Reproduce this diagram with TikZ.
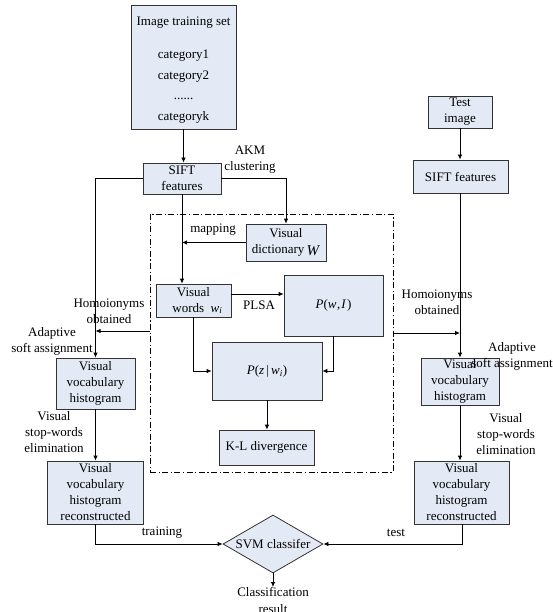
\documentclass[tikz,border=0pt]{standalone}
\usepackage{fontspec}
\setmainfont{Liberation Serif}
\usetikzlibrary{shapes.geometric,arrows.meta,calc}
\definecolor{boxfill}{HTML}{E4EAF5}
\definecolor{boxline}{HTML}{333333}
\newcommand{\itx}[1]{\textit{#1}}
\tikzset{
  every node/.style={font=\fontsize{13}{16}\selectfont},
  pbox/.style={draw=boxline, line width=0.8pt, fill=boxfill, inner sep=0pt, align=center},
  lbl/.style={inner sep=0pt, align=center},
  conn/.style={draw=black, line width=0.8pt},
  arr/.style={conn, -{Latex[length=5pt,width=4.5pt]}},
}
\begin{document}
\begin{tikzpicture}[x=1pt,y=-1pt]
\useasboundingbox (0,0) rectangle (552,612);
% boxes
\node[pbox, minimum width=105, minimum height=124] (train) at (183.5,67) {};
\node[lbl] (trainT) at (183.5,23) {Image training set};
\node[lbl, font=\fontsize{13}{20.5}\selectfont] (cats) at (183.5,86.5) {category1\\category2\\......\\categoryk};
\node[pbox, minimum width=78, minimum height=31] (siftL) at (182,178.5) {SIFT\\features};
\node[pbox, minimum width=80, minimum height=37] (dict) at (286,242.5) {Visual\\dictionary\,\raisebox{-2pt}{\fontsize{15}{16}\selectfont\itx{W}}};
\node[pbox, minimum width=75, minimum height=33] (vw) at (193.5,300.5) {Visual\\\hspace*{0.6em}words\ \ \itx{w}\textsubscript{\itx{i}}};
\node[pbox, minimum width=99, minimum height=61] (pwi) at (333.5,305.5) {\itx{P}(\itx{w}\kern0.5pt,\kern1pt\itx{I}\kern1pt)};
\node[pbox, minimum width=110, minimum height=58] (pz) at (267,371) {\itx{P}(\itx{z}\,|\,\itx{w}\textsubscript{\itx{i}})};
\node[pbox, minimum width=95, minimum height=35] (kl) at (266.5,447.5) {K-L divergence};
\node[pbox, minimum width=79, minimum height=51] (vvhL) at (95.5,383.5) {Visual\\vocabulary\\histogram};
\node[pbox, minimum width=96, minimum height=63] (recL) at (95.5,492.5) {Visual\\vocabulary\\histogram\\reconstructed};
\node[pbox, minimum width=64, minimum height=32] (test) at (460,112) {Test\\image};
\node[pbox, minimum width=95, minimum height=33] (siftR) at (460.5,176.5) {SIFT features};
\node[pbox, minimum width=78, minimum height=47] (vvhR) at (460,381.5) {Visual\\vocabulary\\histogram};
\node[pbox, minimum width=95, minimum height=63] (recR) at (461.5,492.5) {Visual\\vocabulary\\histogram\\reconstructed};
\node[pbox, diamond, aspect=1.7, minimum width=100, minimum height=58] (svm) at (273,544) {};
\node[lbl] (svmT) at (273,544) {SVM classifer};
\node[draw=black, line width=0.8pt, dash pattern=on 6pt off 2.5pt on 1.2pt off 2.5pt, minimum width=243, minimum height=258, inner sep=0pt] (dbox) at (271.5,343) {};
\node[lbl, anchor=north, font=\fontsize{13}{17}\selectfont] (result) at (273,587) {Classification\\result};
% labels
\node[lbl] (akm) at (250,159.5) {AKM\\clustering};
\node[lbl] (mapl) at (213,230) {mapping};
\node[lbl] (plsa) at (259,305) {PLSA};
\node[lbl] (homL) at (109,311.5) {Homoionyms\\obtained};
\node[lbl] (adaL) at (52,341) {Adaptive\\soft assignment};
\node[lbl] (stopL) at (54,432) {Visual\\stop-words\\elimination};
\node[lbl] (homR) at (437,302.5) {Homoionyms\\obtained};
\node[lbl] (adaR) at (512,356) {Adaptive\\soft assignment};
\node[lbl] (stopR) at (506,434.5) {Visual\\stop-words\\elimination};
\node[lbl] (trainl) at (162,533) {training};
\node[lbl] (testl) at (396,533) {test};
% connectors
\draw[arr] (train.south) -- (train.south |- siftL.north);
\draw[arr] (siftL.east) -| (dict.north);
\draw[arr] (siftL.west) -| (vvhL.north);
\draw[arr] (dict.west) -- (siftL.south |- dict.west);
\draw[arr] (siftL.south) -- (siftL.south |- vw.north);
\draw[arr] ([yshift=6.5pt]vw.east) -- ([yshift=6.5pt]vw.east -| pwi.west);
\draw[arr] ([xshift=-0.5pt]vw.south) |- (pz.west);
\draw[arr] ([xshift=-0.5pt]pwi.south) |- (pz.east);
\draw[arr] (pz.south) -- (pz.south |- kl.north);
\draw[arr] ([yshift=12pt]dbox.west) -- ([yshift=12pt]dbox.west -| vvhL.north);
\draw[arr] (vvhL.south) -- (recL.north);
\draw[arr] (recL.south) |- (svm.west);
\draw[arr] ([xshift=1pt]recR.south) |- (svm.east);
\draw[arr] (svm.south) -- (result.north);
\draw[arr] (test.south) -- (test.south |- siftR.north);
\draw[arr] (siftR.south -| vvhR.north) -- (vvhR.north);
\draw[arr] ([yshift=10pt]dbox.east) -- ([yshift=10pt]dbox.east -| vvhR.north);
\draw[arr] (vvhR.south) -- (vvhR.south |- recR.north);
\end{tikzpicture}
\end{document}
